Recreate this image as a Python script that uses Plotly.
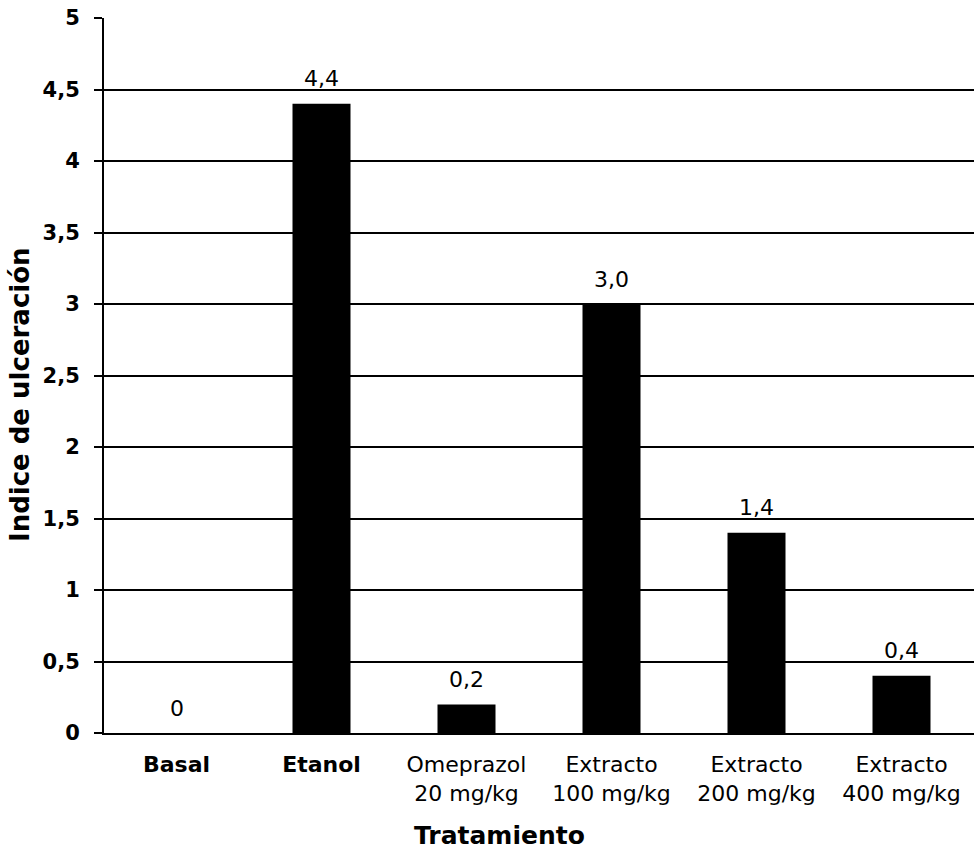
import plotly.graph_objects as go

# Índice de ulceración por tratamiento
categorias = ["Basal", "Etanol", "Omeprazol 20 mg/kg", "Extracto 100 mg/kg",
              "Extracto 200 mg/kg", "Extracto 400 mg/kg"]
etiquetas_x = ["<b>Basal</b>", "<b>Etanol</b>", "Omeprazol<br>20 mg/kg",
               "Extracto<br>100 mg/kg", "Extracto<br>200 mg/kg", "Extracto<br>400 mg/kg"]
indice = [0, 4.4, 0.2, 3.0, 1.4, 0.4]
ticks_y = [0, 0.5, 1, 1.5, 2, 2.5, 3, 3.5, 4, 4.5, 5]

FONT = "DejaVu Sans"


def fmt(v):
    return "0" if v == 0 else f"{v:.1f}".replace(".", ",")


fig = go.Figure(go.Bar(
    x=categorias, y=indice,
    marker=dict(color="black", line=dict(width=0)),
    width=0.4,
))

# value labels above each bar
for c, v in zip(categorias, indice):
    fig.add_annotation(x=c, y=v, xref="x", yref="y", text=fmt(v),
                       showarrow=False, yanchor="middle", yshift=25,
                       font=dict(family=FONT, size=22, color="black"))

# axis titles
fig.add_annotation(xref="paper", yref="paper", x=-0.0966, y=0.474,
                   text="Indice de ulceración", textangle=-90, showarrow=False,
                   xanchor="center", yanchor="middle",
                   font=dict(family=FONT, size=26, color="black", weight="bold"))
fig.add_annotation(xref="paper", yref="paper", x=0.455, y=-0.144,
                   text="Tratamiento", showarrow=False,
                   xanchor="center", yanchor="middle",
                   font=dict(family=FONT, size=25, color="black", weight="bold"))

fig.update_layout(
    width=977, height=851,
    margin=dict(l=104, r=3, t=18, b=118),
    paper_bgcolor="white", plot_bgcolor="white",
    separators=",.",
    showlegend=False,
    bargap=0.6,
)

fig.update_xaxes(
    tickmode="array", tickvals=categorias, ticktext=etiquetas_x,
    tickfont=dict(family=FONT, size=22, color="black"),
    showline=True, linecolor="black", linewidth=2,
    ticks="", showgrid=False, ticklabelstandoff=11,
)

fig.update_yaxes(
    range=[0, 5], tickvals=ticks_y,
    tickfont=dict(family=FONT, size=21, color="black", weight="bold"),
    showgrid=True, gridcolor="black", gridwidth=2,
    showline=True, linecolor="black", linewidth=2,
    ticks="outside", ticklen=8, tickcolor="black", tickwidth=2,
    ticklabelstandoff=10, zeroline=False,
)

fig.write_html("out.html")
